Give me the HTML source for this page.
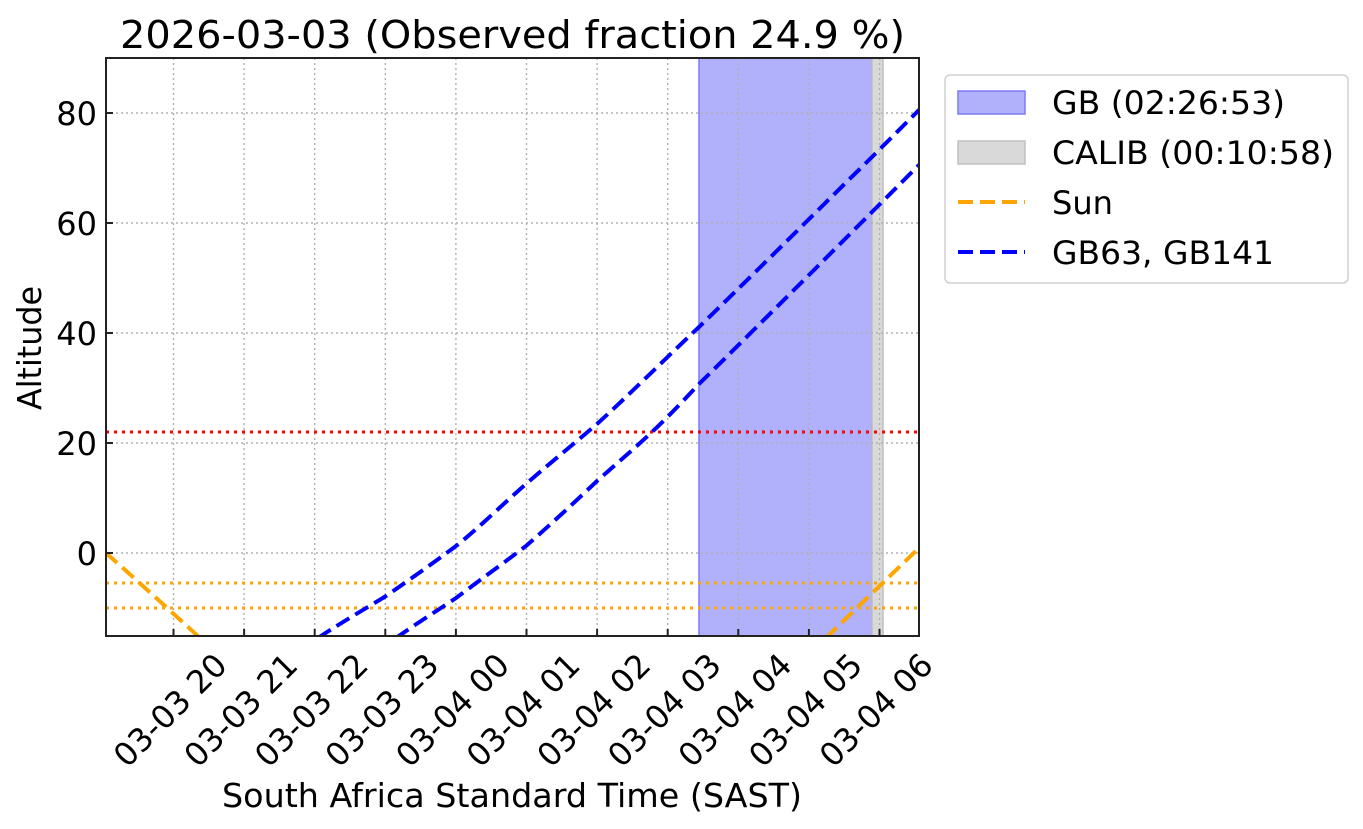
<!DOCTYPE html>
<html><head><meta charset="utf-8"><style>html,body{margin:0;padding:0;background:#fff}svg{display:block}</style></head>
<body>
<svg width="1363" height="829" xmlns="http://www.w3.org/2000/svg" font-family="DejaVu Sans, Liberation Sans, sans-serif">
<rect width="1363" height="829" fill="#fff"/>
<rect x="699" y="58" width="173" height="578" fill="#b0b0fb" stroke="#7b7bf5" stroke-width="1.5"/>
<rect x="872" y="58" width="11" height="578" fill="#d9d9d9" stroke="#c0c0c0" stroke-width="1.5"/>
<g stroke="#b0b0b0" stroke-width="1.4" stroke-dasharray="2,3">
<line x1="106" x2="919" y1="113" y2="113"/><line x1="106" x2="919" y1="223" y2="223"/><line x1="106" x2="919" y1="333" y2="333"/><line x1="106" x2="919" y1="443" y2="443"/><line x1="106" x2="919" y1="553" y2="553"/>
<line y1="58" y2="636" x1="173.5" x2="173.5"/><line y1="58" y2="636" x1="244.1" x2="244.1"/><line y1="58" y2="636" x1="314.7" x2="314.7"/><line y1="58" y2="636" x1="385.3" x2="385.3"/><line y1="58" y2="636" x1="455.9" x2="455.9"/><line y1="58" y2="636" x1="526.5" x2="526.5"/><line y1="58" y2="636" x1="597.1" x2="597.1"/><line y1="58" y2="636" x1="667.7" x2="667.7"/><line y1="58" y2="636" x1="738.3" x2="738.3"/><line y1="58" y2="636" x1="808.9" x2="808.9"/><line y1="58" y2="636" x1="879.5" x2="879.5"/>
</g>
<g stroke-width="3" stroke-dasharray="3,5">
<line x1="106" x2="919" y1="432" y2="432" stroke="#ff0000"/>
<line x1="106" x2="919" y1="583" y2="583" stroke="#ffa500"/>
<line x1="106" x2="919" y1="608" y2="608" stroke="#ffa500"/>
</g>
<clipPath id="c"><rect x="106" y="58" width="813" height="578"/></clipPath>
<g clip-path="url(#c)" fill="none" stroke-width="4" stroke-dasharray="15,7">
<path d="M106,553 Q150,592 200,638" stroke="#ffa500"/>
<path d="M826,638 Q870,595 919,548" stroke="#ffa500"/>
<path d="M318,638 C345,620 370,606 386,596 C415,576 440,558 456,546 C480,527 505,502 526,484 C550,463 575,443 597,424 C630,394 665,359 699,327 C760,268 820,208 872,157 L921,108" stroke="#0000ff"/>
<path d="M396,638 C420,621 440,609 456,598 C480,580 505,562 526,546 C550,525 575,502 597,481 C615,465 635,448 652,432 C670,415 685,399 699,384 C760,324 820,264 872,212 L921,163" stroke="#0000ff"/>
</g>
<rect x="106" y="58" width="813" height="578" fill="none" stroke="#222" stroke-width="2"/>
<g stroke="#222" stroke-width="2">
<line x1="106" x2="113" y1="113" y2="113"/><line x1="106" x2="113" y1="223" y2="223"/><line x1="106" x2="113" y1="333" y2="333"/><line x1="106" x2="113" y1="443" y2="443"/><line x1="106" x2="113" y1="553" y2="553"/>
<line y1="636" y2="629" x1="173.5" x2="173.5"/><line y1="636" y2="629" x1="244.1" x2="244.1"/><line y1="636" y2="629" x1="314.7" x2="314.7"/><line y1="636" y2="629" x1="385.3" x2="385.3"/><line y1="636" y2="629" x1="455.9" x2="455.9"/><line y1="636" y2="629" x1="526.5" x2="526.5"/><line y1="636" y2="629" x1="597.1" x2="597.1"/><line y1="636" y2="629" x1="667.7" x2="667.7"/><line y1="636" y2="629" x1="738.3" x2="738.3"/><line y1="636" y2="629" x1="808.9" x2="808.9"/><line y1="636" y2="629" x1="879.5" x2="879.5"/>
</g>
<g font-size="32" text-anchor="end" fill="#000">
<text x="97" y="125">80</text><text x="97" y="235">60</text><text x="97" y="345">40</text><text x="97" y="455">20</text><text x="97" y="565">0</text>
</g>
<g font-size="32" text-anchor="middle" fill="#000">
<text transform="translate(178,718) rotate(-45)">03-03 20</text>
<text transform="translate(248.6,718) rotate(-45)">03-03 21</text>
<text transform="translate(319.2,718) rotate(-45)">03-03 22</text>
<text transform="translate(389.8,718) rotate(-45)">03-03 23</text>
<text transform="translate(460.4,718) rotate(-45)">03-04 00</text>
<text transform="translate(531,718) rotate(-45)">03-04 01</text>
<text transform="translate(601.6,718) rotate(-45)">03-04 02</text>
<text transform="translate(672.2,718) rotate(-45)">03-04 03</text>
<text transform="translate(742.8,718) rotate(-45)">03-04 04</text>
<text transform="translate(813.4,718) rotate(-45)">03-04 05</text>
<text transform="translate(884,718) rotate(-45)">03-04 06</text>
</g>
<text x="512" y="807" font-size="33" text-anchor="middle" textLength="580" lengthAdjust="spacingAndGlyphs">South Africa Standard Time (SAST)</text>
<text transform="translate(41,348) rotate(-90)" font-size="33" text-anchor="middle" textLength="124" lengthAdjust="spacingAndGlyphs">Altitude</text>
<text x="120" y="48" font-size="38" textLength="785" lengthAdjust="spacingAndGlyphs">2026-03-03 (Observed fraction 24.9 %)</text>
<rect x="945" y="75" width="403" height="208" rx="5" fill="#fff" stroke="#d0d0d0" stroke-width="1.5"/>
<rect x="958" y="91" width="67" height="23" fill="#b0b0fb" stroke="#7b7bf5" stroke-width="1.5"/>
<rect x="958" y="141" width="67" height="23" fill="#d9d9d9" stroke="#c0c0c0" stroke-width="1.5"/>
<line x1="958" x2="1025" y1="202" y2="202" stroke="#ffa500" stroke-width="4" stroke-dasharray="15,7"/>
<line x1="958" x2="1025" y1="252" y2="252" stroke="#0000ff" stroke-width="4" stroke-dasharray="15,7"/>
<g font-size="32" fill="#000">
<text x="1052" y="114" textLength="233" lengthAdjust="spacingAndGlyphs">GB (02:26:53)</text>
<text x="1052" y="164" textLength="282" lengthAdjust="spacingAndGlyphs">CALIB (00:10:58)</text>
<text x="1052" y="214" textLength="61" lengthAdjust="spacingAndGlyphs">Sun</text>
<text x="1052" y="264" textLength="222" lengthAdjust="spacingAndGlyphs">GB63, GB141</text>
</g>
</svg>
</body></html>
